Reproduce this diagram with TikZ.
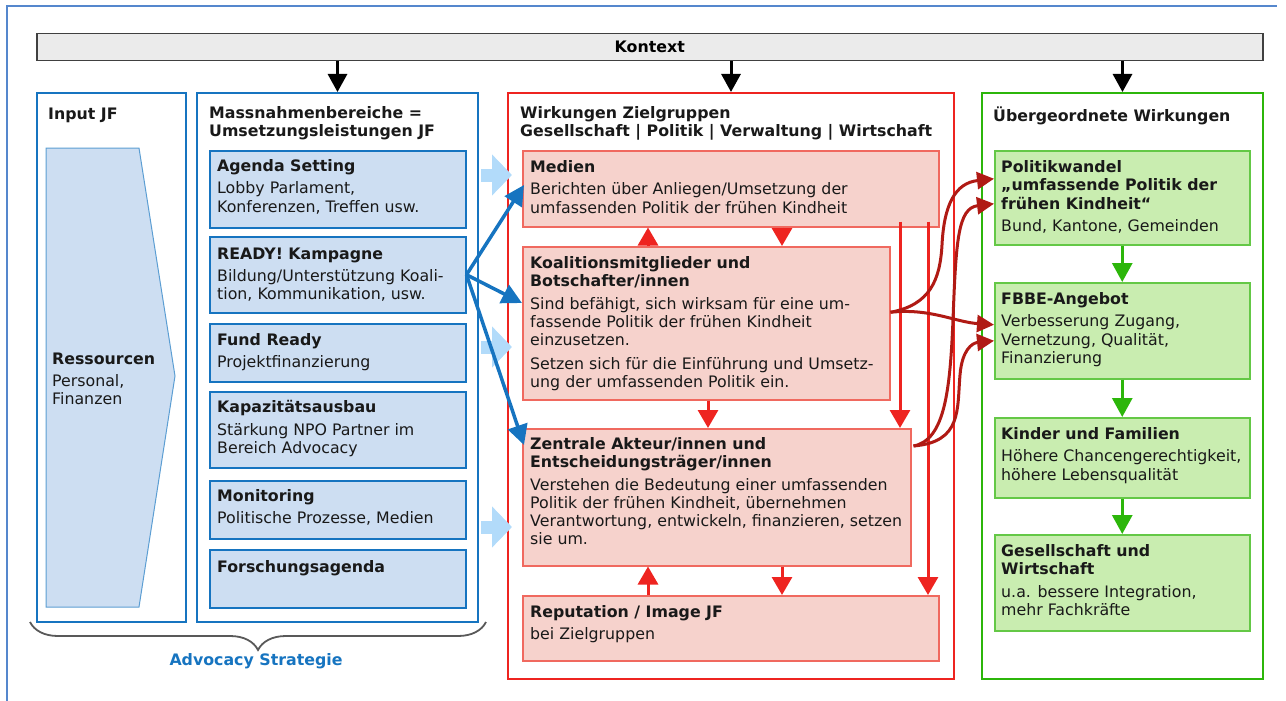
\documentclass[tikz,border=0pt]{standalone}
\usepackage{fontspec}
\setmainfont{DejaVu Sans}
\usetikzlibrary{arrows.meta,decorations.pathreplacing,calc,positioning}

\definecolor{jfblue}{RGB}{22,116,192}
\definecolor{jfbluefill}{RGB}{205,222,242}
\definecolor{jfpale}{RGB}{178,219,250}
\definecolor{jfred}{RGB}{238,36,32}
\definecolor{jfredline}{RGB}{240,105,95}
\definecolor{jfpink}{RGB}{246,210,204}
\definecolor{jfdark}{RGB}{176,26,20}
\definecolor{jfgreen}{RGB}{44,182,10}
\definecolor{jfgreenline}{RGB}{100,200,70}
\definecolor{jfgreenfill}{RGB}{201,237,176}
\definecolor{kontextfill}{RGB}{235,235,235}
\definecolor{jftext}{RGB}{25,25,25}
\definecolor{jfframe}{RGB}{85,135,205}

\tikzset{
    panel/.style={draw, line width=2pt, anchor=north west, inner sep=0pt},
    cell/.style={draw, line width=1.5pt, anchor=north west, inner sep=0pt},
    txt/.style={anchor=north west, inner sep=0pt, align=left, text=jftext, yshift=-2.5pt,
                execute at begin node=\strut},
}

\begin{document}
\begin{tikzpicture}[x=1pt, y=-1pt, font=\fontsize{15.8}{18.2}\selectfont]
        \useasboundingbox (0,0) rectangle (1286,701);
        \draw[jfframe, line width=1.5pt] (7,701) -- (7,6) -- (1277,6);

        \node (kontext) [draw=black!75, fill=kontextfill, line width=1.5pt, anchor=north west,
            inner sep=0pt, minimum width=1226pt, minimum height=27pt] at (36,33) {\textbf{Kontext}};

        % main columns
        \begin{scope}[every node/.style={panel}]
            \node (input) [draw=jfblue, minimum width=149pt, minimum height=529pt] at (36,92) {};
            \node (mass) [draw=jfblue, minimum width=281pt, minimum height=529pt] at (196,92) {};
            \node (wirk) [draw=jfred, minimum width=446pt, minimum height=586pt] at (507,92) {};
            \node (ueber) [draw=jfgreen, minimum width=281pt, minimum height=586pt] at (981,92) {};
        \end{scope}

        \draw[jfblue!70, fill=jfbluefill, line width=1pt]
            (46,148) -- (139,148) -- (175,376) -- (139,607) -- (46,607) -- cycle;

        \begin{scope}[every node/.style={cell, draw=jfblue, fill=jfbluefill, minimum width=256pt}]
            \node (agenda) [minimum height=77pt] at (209,150) {};
            \node (ready) [minimum height=76pt] at (209,236) {};
            \node (fund) [minimum height=58pt] at (209,323) {};
            \node (kapa) [minimum height=76pt] at (209,391) {};
            \node (moni) [minimum height=58pt] at (209,480) {};
            \node (forsch) [minimum height=58pt] at (209,549) {};
        \end{scope}

        \begin{scope}[every node/.style={cell, draw=jfredline, fill=jfpink}]
            \node (medien) [minimum width=416pt, minimum height=76pt] at (522,150) {};
            \node (koal) [minimum width=367pt, minimum height=153pt] at (522,246) {};
            \node (zentr) [minimum width=388pt, minimum height=137pt] at (522,428) {};
            \node (reput) [minimum width=416pt, minimum height=65pt] at (522,595) {};
        \end{scope}

        \begin{scope}[every node/.style={cell, draw=jfgreenline, fill=jfgreenfill, minimum width=255pt}]
            \node (polit) [minimum height=94pt] at (994,150) {};
            \node (fbbe) [minimum height=96pt] at (994,282) {};
            \node (kinder) [minimum height=80pt] at (994,417) {};
            \node (gesell) [minimum height=96pt] at (994,534) {};
        \end{scope}

        % texts
        \begin{scope}[every node/.style={txt}]
            \node (input-t) at (48,104) {\textbf{Input JF}};
            \node (ress-t) at (52,350) {\textbf{Ressourcen}\\[4pt] Personal,\\ Finanzen};
            \node (mass-t) at (209,104) {\textbf{Massnahmenbereiche =}\\ \textbf{Umsetzungsleistungen JF}};
            \node (agenda-t) at (217,157) {\textbf{Agenda Setting}\\[4pt] Lobby Parlament,\\ Konferenzen, Treffen usw.};
            \node (ready-t) at (217,245) {\textbf{READY! Kampagne}\\[4pt] Bildung/Unterstützung Koali-\\ tion, Kommunikation, usw.};
            \node (fund-t) at (217,331) {\textbf{Fund Ready}\\[4pt] Projektfinanzierung};
            \node (kapa-t) at (217,398) {\textbf{Kapazitätsausbau}\\[4pt] Stärkung NPO Partner im\\ Bereich Advocacy};
            \node (moni-t) at (217,487) {\textbf{Monitoring}\\[4pt] Politische Prozesse, Medien};
            \node (forsch-t) at (217,557) {\textbf{Forschungsagenda}};

            \node (wirk-t) at (520,104) {\textbf{Wirkungen Zielgruppen}\\ \textbf{Gesellschaft | Politik | Verwaltung | Wirtschaft}};
            \node (medien-t) at (530,158) {\textbf{Medien}\\[4pt] Berichten über Anliegen/Umsetzung der\\ umfassenden Politik der frühen Kindheit};
            \node (koal-t) at (530,254) {\textbf{Koalitionsmitglieder und}\\ \textbf{Botschafter/innen}\\[4pt]
                Sind befähigt, sich wirksam für eine um-\\ fassende Politik der frühen Kindheit\\ einzusetzen.\\[6pt]
                Setzen sich für die Einführung und Umsetz-\\ ung der umfassenden Politik ein.};
            \node (zentr-t) at (530,435) {\textbf{Zentrale Akteur/innen und}\\ \textbf{Entscheidungsträger/innen}\\[4pt]
                Verstehen die Bedeutung einer umfassenden\\ Politik der frühen Kindheit, übernehmen\\
                Verantwortung, entwickeln, finanzieren, setzen\\ sie um.};
            \node (reput-t) at (530,603) {\textbf{Reputation / Image JF}\\[4pt] bei Zielgruppen};

            \node (ueber-t) at (993,104) {\textbf{Übergeordnete Wirkungen}};
            \node (polit-t) at (1001,158) {\textbf{Politikwandel}\\ \textbf{„umfassende Politik der}\\ \textbf{frühen Kindheit“}\\[4pt] Bund, Kantone, Gemeinden};
            \node (fbbe-t) at (1001,290) {\textbf{FBBE-Angebot}\\[4pt] Verbesserung Zugang,\\ Vernetzung, Qualität,\\ Finanzierung};
            \node (kinder-t) at (1001,425) {\textbf{Kinder und Familien}\\[4pt] Höhere Chancengerechtigkeit,\\ höhere Lebensqualität};
            \node (gesell-t) at (1001,542) {\textbf{Gesellschaft und}\\ \textbf{Wirtschaft}\\[4pt] u.a. bessere Integration,\\ mehr Fachkräfte};
        \end{scope}

        % context arrows
        \begin{scope}[line width=3pt, -{Triangle[length=18pt,width=19pt]}]
            \draw (kontext.south -| mass.north) -- (mass.north);
            \draw (kontext.south -| wirk.north) -- (wirk.north);
            \draw (kontext.south -| ueber.north) -- (ueber.north);
        \end{scope}

        % pale arrows
        \coordinate (pale1) at (0,175);
        \coordinate (pale2) at (0,347);
        \coordinate (pale3) at (0,527);
        \begin{scope}[jfpale, line width=13pt, -{Triangle[length=20pt,width=40pt]},
                      shorten <=2pt, shorten >=-5pt]
            \draw (mass.east |- pale1) -- (wirk.west |- pale1);
            \draw (mass.east |- pale2) -- (wirk.west |- pale2);
            \draw (mass.east |- pale3) -- (wirk.west |- pale3);
        \end{scope}

        % campaign arrows
        \begin{scope}[jfblue, line width=3.5pt, -{Triangle[length=20pt,width=20pt]}]
            \draw (ready.east) -- ($(medien.north west)+(2,35)$);
            \draw (ready.east) -- ($(koal.north west)+(0,57)$);
            \draw (ready.east) -- ($(zentr.north west)+(2,17)$);
        \end{scope}

        % arrows between target groups
        \coordinate (up) at (648,0);
        \coordinate (down) at (782,0);
        \coordinate (mid) at (708,0);
        \coordinate (lineA) at (900,0);
        \coordinate (lineB) at (928,0);
        \begin{scope}[jfred, line width=3pt, -{Triangle[length=18pt,width=20pt]}]
            \draw (koal.north -| up) -- (medien.south -| up);
            \draw (medien.south -| down) -- (koal.north -| down);
            \draw (koal.south -| mid) -- (zentr.north -| mid);
            \draw (reput.north -| up) -- (zentr.south -| up);
            \draw (zentr.south -| down) -- (reput.north -| down);
            \draw[shorten <=-6pt] (medien.south -| lineA) -- (zentr.north -| lineA);
            \draw[shorten <=-6pt] (medien.south -| lineB) -- (reput.north -| lineB);
        \end{scope}

        % impact arrows
        \coordinate (k1) at ($(koal.east)+(0,-11)$);
        \coordinate (z1) at ($(zentr.north east)+(2,18)$);
        \coordinate (p1) at ($(polit.west)+(0,-19)$);
        \coordinate (p2) at ($(polit.west)+(0,6)$);
        \coordinate (f1) at ($(fbbe.west)+(0,-6)$);
        \coordinate (f2) at ($(fbbe.west)+(0,10)$);
        \begin{scope}[jfdark, line width=3pt, -{Triangle[length=17pt,width=17pt]}]
            \draw (k1) .. controls (930,305) and (940,280) .. (942,245)
                       .. controls (944,205) and (955,183) .. (p1);
            \draw (k1) .. controls (930,308) and (955,322) .. (f1);
            \draw (z1) .. controls (945,440) and (950,390) .. (953,320)
                       .. controls (956,240) and (958,208) .. (p2);
            \draw (z1) .. controls (962,442) and (957,410) .. (960,375)
                       .. controls (962,350) and (972,343) .. (f2);
        \end{scope}

        \begin{scope}[jfgreen, line width=3pt, -{Triangle[length=19pt,width=20pt]}]
            \draw (polit.south) -- (fbbe.north);
            \draw (fbbe.south) -- (kinder.north);
            \draw (kinder.south) -- (gesell.north);
        \end{scope}

        % strategy brace
        \draw[black!65, line width=1.8pt, decorate, decoration={brace, amplitude=28pt}]
            (486,622) -- (30,622);
        \node (advocacy) [text=jfblue, font=\fontsize{15.8}{18.2}\selectfont\bfseries] at (256,661) {Advocacy Strategie};
\end{tikzpicture}
\end{document}
